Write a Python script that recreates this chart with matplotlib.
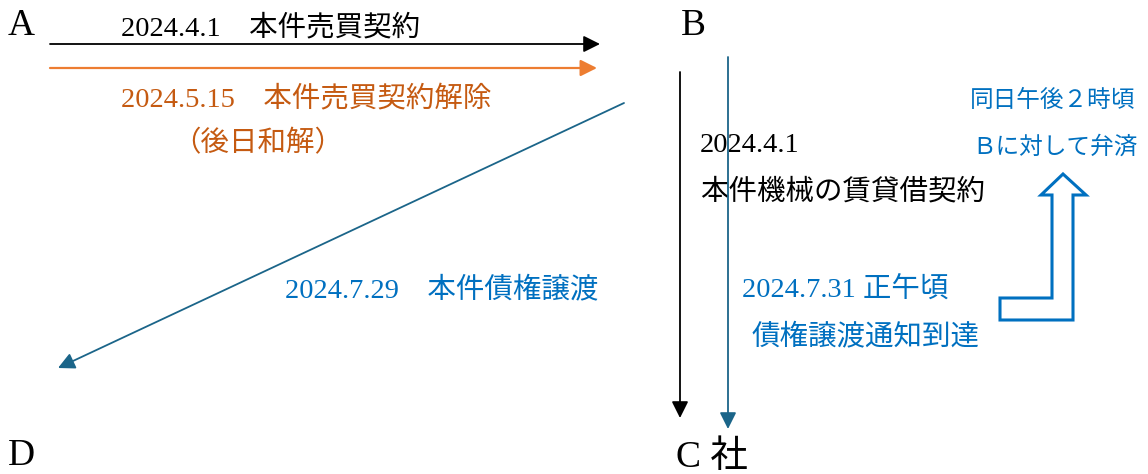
import matplotlib.pyplot as plt
from matplotlib.patches import Polygon

# parties
party_names = ["A", "B", "D", "C 社"]
party_xy = [(8, 26), (681, 26), (8, 456), (676, 458)]

# captions
black_texts = ["2024.4.1　本件売買契約", "2024.4.1", "本件機械の賃貸借契約"]
black_xy = [(121, 28), (700, 146), (700, 192)]

orange_texts = ["2024.5.15　本件売買契約解除", "（後日和解）"]
orange_xy = [(121, 99), (172, 144)]

blue_texts = ["2024.7.29　本件債権譲渡", "2024.7.31 正午頃", "債権譲渡通知到達"]
blue_xy = [(285, 290), (742, 290), (752, 337)]

blue_small_texts = ["同日午後２時頃", "Ｂに対して弁済"]
blue_small_xy = [(970, 101), (972, 147)]

# arrows: (start, end)
arrow_black_h = ((50, 44), (600, 44))
arrow_orange_h = ((50, 68), (597, 68))
arrow_diag = ((624, 103), (58, 368))
arrow_black_v = ((680, 72), (680, 418))
arrow_teal_v = ((728, 57), (728, 429))

# bent block arrow outline
bent_arrow = [(1000, 320), (1000, 298), (1052, 298), (1052, 195), (1041, 195),
              (1063, 174), (1086, 195), (1073, 195), (1073, 320)]

fonts = ["Liberation Serif", "Noto Sans CJK JP"]
c_black = "#000000"
c_orange_txt = "#C55A11"
c_orange = "#ED7D31"
c_blue = "#0070C0"
c_teal = "#1B6589"

fig = plt.figure(figsize=(11.48, 4.74), dpi=100)
ax = fig.add_axes([0, 0, 1, 1])
ax.set_xlim(0, 1148)
ax.set_ylim(474, 0)
ax.axis("off")

for name, (x, y) in zip(party_names, party_xy):
    ax.text(x, y, name, fontsize=27, family=fonts, ha="left", va="center", color=c_black)

for t, (x, y) in zip(black_texts, black_xy):
    ax.text(x, y, t, fontsize=20.5, family=fonts, ha="left", va="center", color=c_black)
for t, (x, y) in zip(orange_texts, orange_xy):
    ax.text(x, y, t, fontsize=20.5, family=fonts, ha="left", va="center", color=c_orange_txt)
for t, (x, y) in zip(blue_texts, blue_xy):
    ax.text(x, y, t, fontsize=20.5, family=fonts, ha="left", va="center", color=c_blue)
for t, (x, y) in zip(blue_small_texts, blue_small_xy):
    ax.text(x, y, t, fontsize=17, family=fonts, ha="left", va="center", color=c_blue)


def draw_arrow(seg, color, lw=1.3):
    (x0, y0), (x1, y1) = seg
    ax.annotate("", xy=(x1, y1), xytext=(x0, y0),
                arrowprops=dict(arrowstyle="-|>,head_length=1.0,head_width=0.5",
                                color=color, lw=lw, shrinkA=0, shrinkB=0))


draw_arrow(arrow_black_h, c_black)
draw_arrow(arrow_orange_h, c_orange, lw=1.6)
draw_arrow(arrow_diag, c_teal)
draw_arrow(arrow_black_v, c_black)
draw_arrow(arrow_teal_v, c_teal)

ax.add_patch(Polygon(bent_arrow, closed=True, fill=False, edgecolor=c_blue, lw=2.2))

fig.savefig("out.png", dpi=100)
